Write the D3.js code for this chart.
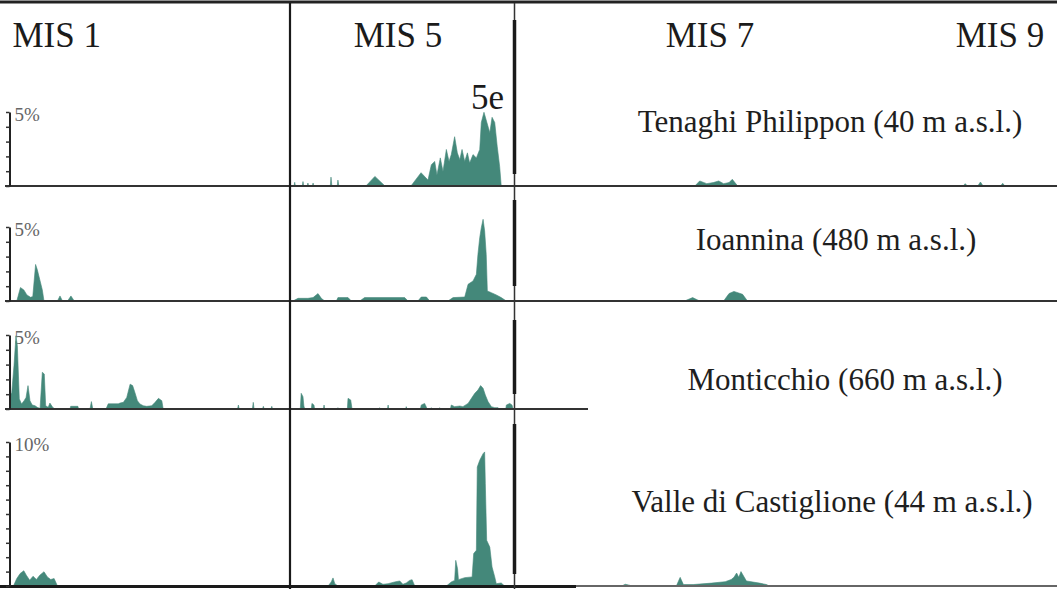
<!DOCTYPE html>
<html><head><meta charset="utf-8">
<script src="https://cdn.jsdelivr.net/npm/d3@7"></script>
<style>
html,body{margin:0;padding:0;background:#fff;}
svg{display:block;}
text{font-family:"Liberation Serif","Times New Roman",serif;}
</style></head>
<body><div id="chart"></div>
<script>
// ---------- DATA ----------
const stageLabels = ["MIS 1", "MIS 5", "MIS 7", "MIS 9"];
const substageLabel = "5e";
const siteLabels = [
  "Tenaghi Philippon (40 m a.s.l.)",
  "Ioannina (480 m a.s.l.)",
  "Monticchio (660 m a.s.l.)",
  "Valle di Castiglione (44 m a.s.l.)"
];
const yMaxPct = [5, 5, 5, 10];
const yTickLabels = ["5%", "5%", "5%", "10%"];

// series: [relative position within stage panel (0-100), percentage]
const tpMIS1 = [];
const tpMIS5 = [[1.8,0],[2.1,0.25],[2.4,0],[5.5,0],[5.8,0.3],[6.1,0],[7.7,0],[8.0,0.2],[8.3,0],[10.0,0],[10.3,0.2],[10.6,0],
  [18.0,0],[18.3,0.6],[18.7,0],[21.1,0],[21.4,0.4],[21.8,0],[33.9,0],[37.9,0.65],[42.4,0],
  [54.0,0],[58.5,0.9],[61.6,0.4],[63.1,1.44],[64.6,1.66],[65.6,0.75],[67.1,1.9],[68.3,0.98],[69.8,2.47],[71.0,1.66],[72.0,2.12],
  [73.5,3.33],[74.7,2.24],[75.8,1.78],[76.8,2.47],[78.0,1.66],[79.2,2.24],[80.2,1.55],[81.7,2.12],[83.2,1.9],[84.7,2.47],
  [85.4,4.29],[86.6,4.98],[87.9,4.29],[89.2,3.6],[90.2,4.64],[91.4,4.29],[92.5,2.69],[93.6,1.32],[94.3,0]];
const tpMIS7 = [[33.3,0],[34.2,0.34],[35.5,0.16],[36.7,0.23],[37.7,0.34],[38.6,0.16],[39.6,0.23],[40.2,0.45],[41.2,0],
  [82.7,0],[83.1,0.16],[83.5,0],[85.4,0],[85.9,0.27],[86.4,0],[89.6,0],[90.0,0.18],[90.4,0]];

const ioMIS1 = [[2.6,0],[3.9,0.91],[5.1,0.75],[6.2,0.41],[7.5,0.25],[8.3,0.3],[9.3,2.47],[9.9,2.12],[10.8,1.44],[11.7,0.75],[12.3,0],
  [17.1,0],[18.0,0.34],[18.9,0],[20.7,0],[21.9,0.34],[23.1,0]];
const ioMIS5 = [[1.3,0],[3.6,0.18],[8.0,0.18],[10.3,0.23],[12.5,0.5],[14.0,0.18],[15.5,0],[20.7,0],[21.4,0.23],[25.9,0.23],[27.4,0],
  [31.1,0],[33.3,0.23],[51.2,0.23],[52.7,0],[57.1,0],[58.6,0.27],[60.9,0.27],[62.4,0],[70.5,0],[72.8,0.23],[78.0,0.27],
  [79.5,1.13],[81.7,1.35],[83.2,1.8],[83.9,3.15],[84.7,4.28],[85.4,4.95],[86.2,5.52],[86.9,4.73],[87.6,3.15],[88.1,0.68],
  [89.9,0.56],[92.1,0.41],[94.3,0.23],[96.6,0]];
const ioMIS7 = [[31.4,0],[32.9,0.23],[34.2,0],[38.6,0],[39.6,0.5],[40.5,0.65],[42.1,0.45],[43.0,0]];

const moMIS1 = [[0,0],[0.1,0.9],[0.8,1.12],[1.6,2.93],[2.3,4.95],[2.8,4.28],[3.1,2.7],[3.5,0.68],[4.3,0.34],[5.2,0.56],[5.9,0.78],
  [6.6,1.58],[7.3,0.56],[8.1,0.27],[9.1,0.22],[9.9,0.11],[10.9,0.04],[11.7,2.48],[12.4,2.36],[12.9,0.22],[13.8,0.11],[14.4,0.4],
  [15.4,0.11],[16.2,0],[21.6,0],[21.8,0.18],[24.4,0.18],[24.6,0],[28.7,0],[29.2,0.5],[29.7,0],
  [34.4,0],[35.2,0.35],[38.8,0.35],[39.4,0.4],[40.6,0.45],[41.8,0.78],[43.0,1.68],[43.9,1.58],[44.7,1.12],[45.6,0.56],[46.5,0.34],
  [47.7,0.22],[48.9,0.18],[50.7,0.22],[51.9,0.45],[53.1,0.72],[54.3,0.56],[54.8,0],
  [81.3,0],[81.6,0.27],[81.9,0],[86.6,0],[86.9,0.45],[87.2,0],[90.2,0],[90.5,0.18],[90.8,0],[93.2,0],[93.5,0.18],[93.8,0]];
const moMIS5 = [[4.6,0],[5.0,1.06],[5.8,0.83],[6.2,0.2],[6.6,0],[9.5,0],[9.8,0.38],[10.7,0.27],[11.0,0],[14.9,0],[15.2,0.27],[15.5,0],
  [21.2,0],[21.4,0.09],[21.7,0],[25.6,0],[25.9,0.72],[27.1,0.61],[27.7,0],[39.8,0],[40.0,0.09],[40.3,0],[43.5,0],[43.8,0.27],[44.1,0],
  [51.6,0],[51.9,0.16],[52.2,0],[58.2,0],[58.6,0.27],[60.1,0.38],[60.8,0.16],[61.2,0],[62.8,0],[63.1,0.09],[63.4,0],
  [66.5,0],[66.8,0.09],[67.1,0],[71.6,0],[72.0,0.27],[73.5,0.16],[75.8,0.2],[77.2,0.16],[79.5,0.38],[81.0,0.72],[82.5,1.06],
  [83.9,1.28],[85.1,1.58],[86.2,1.4],[87.2,0.95],[88.4,0.5],[89.9,0.16],[91.4,0.09],[92.9,0.09],[93.3,0],
  [96.3,0],[96.6,0.27],[98.1,0.38],[99.1,0.27],[99.6,0]];
const moMIS7 = [];

const vcMIS1 = [[1.4,0],[2.6,0.52],[3.8,0.87],[5.1,1.06],[6.0,0.75],[7.2,0.4],[8.4,0.68],[9.6,0.45],[10.8,0.75],[12.3,0.99],
  [13.5,0.63],[14.7,0.45],[15.9,0.52],[17.1,0]];
const vcMIS5 = [[17.0,0],[18.4,0.28],[19.2,0.56],[20.0,0.16],[21.4,0],
  [37.8,0],[39.6,0.28],[41.5,0.12],[43.8,0.16],[46.7,0.28],[49.0,0.35],[50.4,0.12],[51.9,0.21],[53.4,0.39],[54.5,0.44],[55.7,0],
  [69.8,0],[72.0,0.28],[73.5,0.39],[74.0,1.78],[74.8,1.2],[75.2,0.44],[78.0,0.58],[81.3,0.63],[82.0,2.25],[83.2,2.48],
  [83.6,8.26],[84.7,8.73],[86.2,9.19],[86.9,9.31],[87.2,7.1],[87.8,3.17],[89.2,2.7],[90.2,1.32],[91.4,0.63],[92.1,0.16],[94.3,0.21],[95.8,0]];
const vcMIS7 = [[19.8,0],[20.5,0.12],[21.3,0.05],[21.6,0],[29.9,0],[30.6,0.6],[31.2,0.1],[33.0,0.1],[36.4,0.2],[38.9,0.3],
  [40.0,0.45],[40.5,0.6],[41.0,0.9],[41.4,0.6],[41.8,1.0],[42.8,0.35],[45.2,0.2],[46.5,0.1],[47.0,0]];

const seriesByRow = [
  [tpMIS1, tpMIS5, tpMIS7],
  [ioMIS1, ioMIS5, ioMIS7],
  [moMIS1, moMIS5, moMIS7],
  [vcMIS1, vcMIS5, vcMIS7]
];

// ---------- LAYOUT ----------
const W = 1057, H = 589;
const panelX = [[9.5, 290], [290, 514], [514, 1057]];
const rows = [{base:186, top:112}, {base:301, top:227}, {base:409, top:335}, {base:586, top:442}];
const baselineEnd = [1057, 1057, 588, 1057];
const thickSegs = [[20,174],[200,286],[320,394],[424,574]];
const siteLabelPos = [[830,131.5],[836,249.5],[845,390],[832,511.5]];
const stageLabelPos = [[12.5,"start"],[398,"middle"],[710,"middle"],[1000,"middle"]];
const fillColor = "#44887a";

const svg = d3.select("#chart").append("svg").attr("width", W).attr("height", H);
svg.append("rect").attr("width", W).attr("height", H).attr("fill", "#fff");

const xScales = panelX.map(p => d3.scaleLinear().domain([0, 100]).range(p));

// top border
svg.append("line").attr("x1",0).attr("x2",W).attr("y1",2).attr("y2",2).attr("stroke","#222").attr("stroke-width",3);

// stage headers
stageLabels.forEach((s,i)=>{
  svg.append("text").attr("x", stageLabelPos[i][0]).attr("y", 46.5)
    .attr("text-anchor", stageLabelPos[i][1]).attr("font-size", 35).attr("fill","#1b1b1b").text(s);
});
svg.append("text").attr("x", 471).attr("y", 108.5).attr("font-size", 35).attr("fill","#1b1b1b").text(substageLabel);

rows.forEach((r, ri) => {
  const y = d3.scaleLinear().domain([0, yMaxPct[ri]]).range([r.base, r.top]);
  // axis label
  svg.append("text").attr("x", 14.5).attr("y", r.top + 8.5).attr("font-size", 19).attr("fill", "#666").text(yTickLabels[ri]);
  // areas
  seriesByRow[ri].forEach((ser, pi) => {
    if (!ser.length) return;
    const x = xScales[pi];
    const area = d3.area().x(d => x(d[0])).y0(y(0)).y1(d => y(d[1]));
    svg.append("path").datum(ser).attr("d", area).attr("fill", fillColor).attr("stroke", fillColor).attr("stroke-width", 0.6);
  });
  // baseline
  svg.append("line").attr("x1", 5).attr("x2", baselineEnd[ri]).attr("y1", r.base).attr("y2", r.base)
    .attr("stroke", ri===3 ? "#666" : "#333").attr("stroke-width", 2);
  if (ri===3) svg.append("line").attr("x1",0).attr("x2",576).attr("y1",r.base+0.5).attr("y2",r.base+0.5).attr("stroke","#1a1a1a").attr("stroke-width",3);
  // y axis
  const ax = svg.append("g").attr("transform", `translate(${panelX[0][0]},0)`)
    .call(d3.axisLeft(y).tickValues(d3.range(0, yMaxPct[ri] + 1)).tickSize(3.5).tickSizeOuter(0).tickFormat(""));
  ax.select(".domain").attr("stroke", "#222").attr("stroke-width", 2);
  ax.selectAll(".tick line").attr("stroke", "#333").attr("stroke-width", 1.5);
  // site label
  svg.append("text").attr("x", siteLabelPos[ri][0]).attr("y", siteLabelPos[ri][1]).attr("text-anchor","middle")
    .attr("font-size", 31).attr("fill", "#1e1e1e").text(siteLabels[ri]);
});

// panel separators
svg.append("line").attr("x1",290).attr("x2",290).attr("y1",3).attr("y2",H).attr("stroke","#1a1a1a").attr("stroke-width",2.2);
svg.append("line").attr("x1",514.5).attr("x2",514.5).attr("y1",3).attr("y2",H).attr("stroke","#333").attr("stroke-width",1.5);
thickSegs.forEach(s => svg.append("line").attr("x1",514.5).attr("x2",514.5).attr("y1",s[0]).attr("y2",s[1])
  .attr("stroke","#1a1a1a").attr("stroke-width",3.5));
</script>
</body></html>
